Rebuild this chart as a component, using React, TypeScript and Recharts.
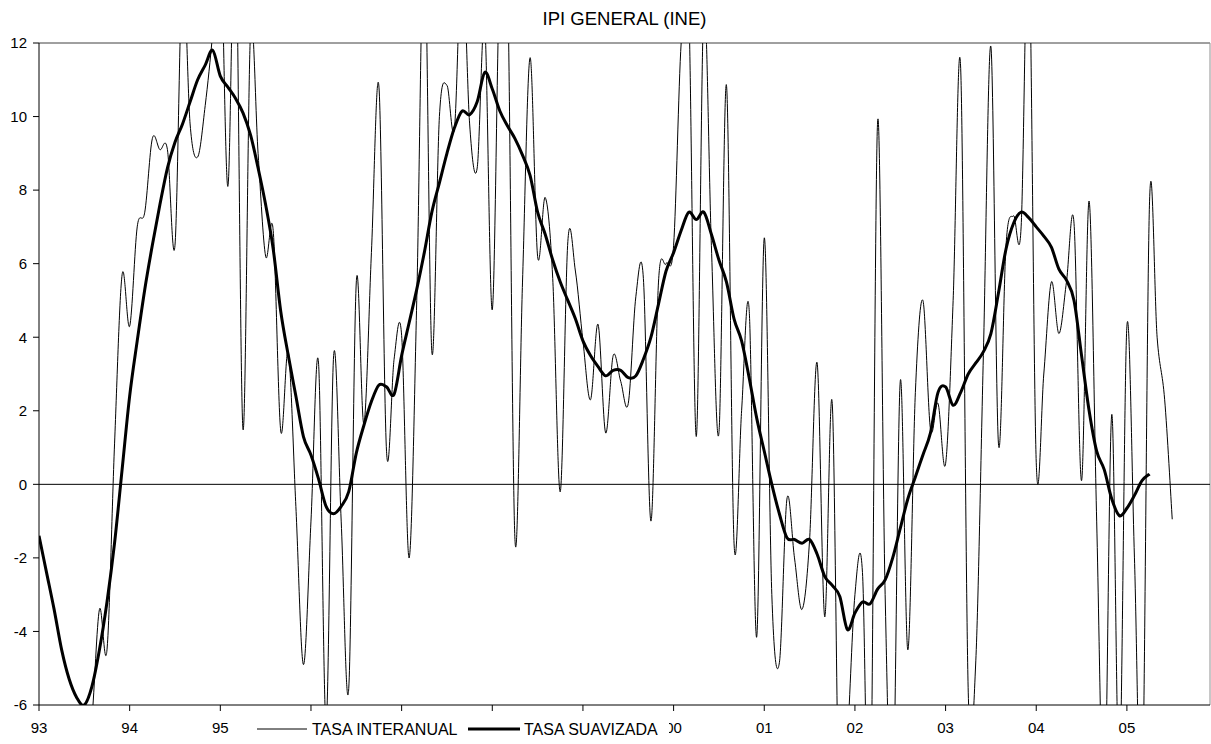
import React from 'react';
import { LineChart, Line, XAxis, YAxis, ReferenceLine } from 'recharts';

// monthly values, Jan 1993 = month 0
const INTERANUAL = [
  -8.5, -11, -7.5, -10, -9, -12, -8, -6.4, -3.4, -4.5, 1.1, 5.7,
  4.3, 7.0, 7.4, 9.4, 9.1, 9.1, 6.5, 14, 9.8, 8.9, 10.3, 12.3,
  15, 8.1, 15.5, 1.5, 12.3, 9.0, 6.2, 6.9, 1.45, 3.6, -0.6, -4.9,
  -1.0, 3.3, -6.5, 3.5, -1.0, -5.55, 5.5, 1.65, 6.3, 10.8, 0.9, 3.4,
  4.05, -2.0, 5, 15, 3.6, 10.0, 10.85, 9.7, 14.5, 9.8, 8.6, 12.5,
  4.75, 14, 14, -1.5, 5.5, 11.6, 6.2, 7.8, 5.6, -0.2, 6.6, 5.8,
  3.9, 2.3, 4.35, 1.4, 3.5, 2.8, 2.2, 5.1, 5.6, -1.0, 5.5, 6.0,
  6.5, 12, 13, 1.3, 13, 6.5, 1.4, 10.85, -1.6, 2.0, 4.75, -4.15,
  6.7, -3.0, -4.85, -0.4, -2.0, -3.4, -1.5, 3.3, -3.6, 2.2, -10, -7,
  -3.0, -2.4, -10, 9.85, -3, -9, 2.8, -4.5, 2.5, 5.0, 1.5, 2.2,
  0.56, 5, 11.3, -5.65, -4.8, 3.5, 11.9, 1.1, 6.5, 7.3, 7.0, 15,
  0.6, 3.0, 5.5, 4.1, 5.5, 7.1, 0.1, 7.7, -1, -9, 1.9, -8,
  4.3, -2, -9, 7.7, 4.0, 2.3, -0.95,
];

const SUAVIZADA = [
  -1.4, -2.4, -3.4, -4.5, -5.3, -5.8, -6.0, -5.5, -4.5, -3.2, -1.6, 0.4,
  2.4, 3.9, 5.3, 6.5, 7.6, 8.6, 9.3, 9.8, 10.4, 11.0, 11.4, 11.8,
  11.1, 10.8, 10.5, 10.1, 9.5, 8.6, 7.6, 6.4, 4.7, 3.5, 2.4, 1.3,
  0.8, 0.15, -0.6, -0.8, -0.6, -0.2, 0.85, 1.6, 2.25, 2.7, 2.65, 2.45,
  3.5, 4.4, 5.3, 6.3, 7.4, 8.2, 9.0, 9.7, 10.15, 10.05, 10.4, 11.2,
  10.75, 10.15, 9.75, 9.4, 8.95, 8.4, 7.4, 6.8, 6.1, 5.5, 5.0, 4.5,
  3.9, 3.5, 3.2, 2.95, 3.1, 3.1, 2.9, 2.95, 3.4, 4.0, 4.9, 5.8,
  6.3, 6.9, 7.4, 7.2, 7.4, 6.8, 6.1, 5.5, 4.5, 3.9, 2.9, 1.8,
  0.9, 0.0, -0.8, -1.45, -1.5, -1.6, -1.5, -1.9, -2.5, -2.75, -3.05, -3.95,
  -3.5, -3.2, -3.25, -2.85, -2.6, -2.0, -1.2, -0.4, 0.2, 0.8, 1.4, 2.5,
  2.65, 2.15, 2.5, 3.0, 3.3, 3.6, 4.1, 5.2, 6.4, 7.1, 7.4, 7.25,
  7.0, 6.75, 6.45, 5.85, 5.55, 5.0, 3.5, 2.0, 0.9, 0.4, -0.4, -0.85,
  -0.65, -0.3, 0.1, 0.28,
];

const YEAR_TICKS = [0, 12, 24, 36, 48, 60, 72, 84, 96, 108, 120, 132, 144];
const YEAR_LABELS = ['93', '94', '95', '96', '97', '98', '99', '00', '01', '02', '03', '04', '05'];
// these year labels sit under the legend box in the original
const COVERED_LABELS = ['96', '97', '98', '99'];
const Y_TICKS = [-6, -4, -2, 0, 2, 4, 6, 8, 10, 12];

const FONT = '"Liberation Sans", Arial, sans-serif';

// smoothing similar to the spreadsheet "smoothed line" option
const smoothCurve = (context: any) => {
  let pts: number[][] = [];
  return {
    areaStart() {},
    areaEnd() {},
    lineStart() {
      pts = [];
    },
    point(x: number, y: number) {
      pts.push([+x, +y]);
    },
    lineEnd() {
      if (!pts.length) return;
      context.moveTo(pts[0][0], pts[0][1]);
      for (let i = 0; i < pts.length - 1; i++) {
        const p0 = pts[i - 1] || pts[i];
        const p1 = pts[i];
        const p2 = pts[i + 1];
        const p3 = pts[i + 2] || p2;
        context.bezierCurveTo(
          p1[0] + (p2[0] - p0[0]) / 6,
          p1[1] + (p2[1] - p0[1]) / 6,
          p2[0] - (p3[0] - p1[0]) / 6,
          p2[1] - (p3[1] - p1[1]) / 6,
          p2[0],
          p2[1]
        );
      }
    },
  };
};

const data = INTERANUAL.map((v, t) => ({
  t,
  interanual: v,
  suavizada: t < SUAVIZADA.length ? SUAVIZADA[t] : null,
}));

const yearLabel = (v: number) => {
  const label = YEAR_LABELS[YEAR_TICKS.indexOf(v)];
  return COVERED_LABELS.includes(label) ? '' : label;
};

export default function App() {
  return (
    <div style={{ position: 'absolute', left: 0, top: 0, width: 1211, height: 744, background: '#fff', fontFamily: FONT }}>
      <div style={{ position: 'absolute', left: 39, width: 1171, top: 8, textAlign: 'center', fontSize: 18.5, color: '#000' }}>
        IPI GENERAL (INE)
      </div>
      <LineChart width={1211} height={744} data={data} margin={{ top: 43, right: 1, left: 0, bottom: 9 }}>
        <XAxis
          type="number"
          dataKey="t"
          domain={[0, 155]}
          ticks={YEAR_TICKS}
          tickFormatter={yearLabel}
          allowDataOverflow
          height={30}
          tickSize={6}
          tickMargin={11}
          axisLine={{ stroke: '#000' }}
          tickLine={{ stroke: '#000' }}
          tick={{ fill: '#000', fontSize: 15, fontFamily: FONT }}
        />
        <YAxis
          type="number"
          domain={[-6, 12]}
          ticks={Y_TICKS}
          allowDataOverflow
          width={39}
          tickSize={6}
          tickMargin={6}
          axisLine={{ stroke: '#000' }}
          tickLine={{ stroke: '#000' }}
          tick={{ fill: '#000', fontSize: 15, fontFamily: FONT }}
        />
        <ReferenceLine y={12} stroke="#404040" />
        <ReferenceLine x={155} stroke="#909090" />
        <ReferenceLine y={0} stroke="#000" />
        <Line
          dataKey="interanual"
          type={smoothCurve as any}
          stroke="#000"
          strokeWidth={1}
          dot={false}
          activeDot={false}
          isAnimationActive={false}
        />
        <Line
          dataKey="suavizada"
          type={smoothCurve as any}
          stroke="#000"
          strokeWidth={3}
          dot={false}
          activeDot={false}
          isAnimationActive={false}
        />
      </LineChart>
      <svg style={{ position: 'absolute', left: 253, top: 717 }} width={416} height={24}>
        <rect x={0} y={0} width={416} height={24} fill="#fff" />
        <line x1={4} x2={54} y1={12} y2={12} stroke="#000" strokeWidth={1} />
        <text x={59} y={18} fontSize={16} fontFamily={FONT} fill="#000">TASA INTERANUAL</text>
        <line x1={215} x2={267} y1={12} y2={12} stroke="#000" strokeWidth={3} />
        <text x={271} y={18} fontSize={16} fontFamily={FONT} fill="#000">TASA SUAVIZADA</text>
      </svg>
    </div>
  );
}
